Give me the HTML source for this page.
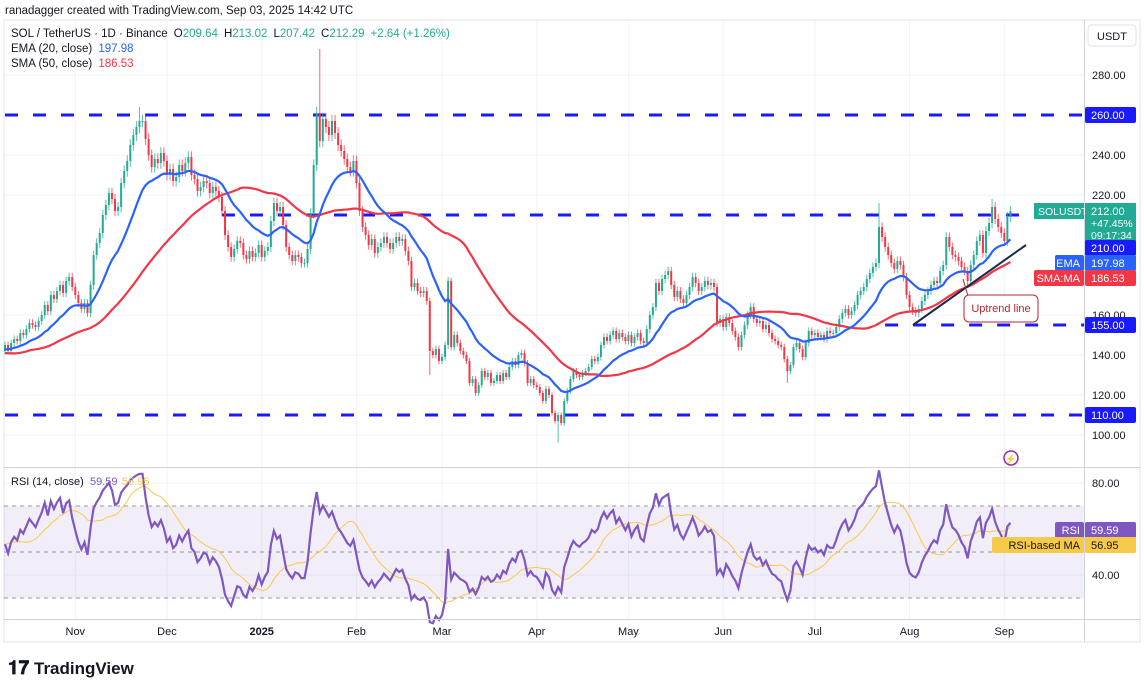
<!DOCTYPE html>
<html><head><meta charset="utf-8"><style>
body{margin:0;background:#fff;font-family:"Liberation Sans",sans-serif;}
svg{display:block}
text{font-family:"Liberation Sans",sans-serif;}
</style></head><body>
<svg id="chart" width="1144" height="690" viewBox="0 0 1144 690" xmlns="http://www.w3.org/2000/svg">
<rect x="0" y="0" width="1144" height="690" fill="#fff"/>
<text x="5" y="14" font-size="11.5" fill="#131722">ranadagger created with TradingView.com, Sep 03, 2025 14:42 UTC</text>
<rect x="4" y="20" width="1136" height="622" fill="none" stroke="#e0e3eb"/>
<g id="grid"></g>
<g id="levels"></g>
<g id="candles" clip-path="url(#pclip)"></g>
<g id="mas"></g>
<g id="rsi"></g>
<defs><clipPath id="pclip"><rect x="4" y="20" width="1080" height="447"/></clipPath></defs>
<line x1="4" y1="467.5" x2="1140" y2="467.5" stroke="#d1d4dc"/>
<line x1="4" y1="619.5" x2="1140" y2="619.5" stroke="#d1d4dc"/>
<line x1="1084.5" y1="20" x2="1084.5" y2="642" stroke="#d1d4dc"/>
<g id="axes"></g>
<text x="11" y="37" font-size="11.5" fill="#131722">SOL / TetherUS · 1D · Binance <tspan dx="3">O</tspan><tspan fill="#22ab94">209.64</tspan><tspan dx="6">H</tspan><tspan fill="#22ab94">213.02</tspan><tspan dx="6">L</tspan><tspan fill="#22ab94">207.42</tspan><tspan dx="6">C</tspan><tspan fill="#22ab94">212.29</tspan><tspan dx="6" fill="#22ab94">+2.64 (+1.26%)</tspan></text>
<text x="11" y="52" font-size="11.5" fill="#131722">EMA (20, close) <tspan fill="#2962ff" dx="3">197.98</tspan></text>
<text x="11" y="67" font-size="11.5" fill="#131722">SMA (50, close) <tspan fill="#f23645" dx="3">186.53</tspan></text>
<text x="11" y="485" font-size="11" fill="#131722">RSI (14, close)</text>
<text x="90" y="485" font-size="11" fill="#7e57c2">59.59</text>
<text x="122" y="485" font-size="11" fill="#f7c948">56.95</text>
<rect x="1088" y="25" width="48" height="21" rx="3" fill="#fff" stroke="#e0e3eb"/>
<text x="1112" y="40" font-size="11" text-anchor="middle" fill="#131722">USDT</text>
<line x1="913" y1="325" x2="1026" y2="245" stroke="#1c2a4a" stroke-width="2"/>
<line x1="963" y1="279" x2="968" y2="296" stroke="#b22833" stroke-width="1"/>
<rect x="964" y="295" width="74" height="27" rx="5" fill="#fff" stroke="#b22833"/>
<text x="1001" y="312" font-size="11" text-anchor="middle" fill="#b22833">Uptrend line</text>
<circle cx="1011" cy="458" r="7" fill="none" stroke="#9c27b0" stroke-width="1.5"/>
<text x="1011" y="462" font-size="9" text-anchor="middle" fill="#9c27b0">⚡</text>
<g>
<text x="8" y="674" font-size="19" font-weight="bold" fill="#131722">𝟏𝟕</text>
<text x="34" y="674" font-size="17" font-weight="bold" fill="#131722">TradingView</text>
</g>
</svg>
<script>
const preCloses=[142,145,150,147,143,140,136,133,134,138,141,144,146,143,139,136,133,131,134,137,141,143,140,136,133,135,138,142,145,148,150,147,143,140,137,134,132,135,138,141,144,146,149,152,150,147,144,141,139,142];
const closes=[145,142,146,148,147,151,150,153,156,155,
154,157,160,165,162,170,168,172,175,171,
177,179,174,170,166,163,166,161,175,190,
196,201,210,215,221,218,212,214,226,232,
237,245,250,254,257,257,248,240,234,238,
236,241,237,230,233,227,229,235,232,236,
239,230,228,222,224,227,226,221,224,222,
219,212,200,194,189,193,197,196,190,188,
192,189,191,195,189,192,194,207,216,212,
214,205,194,190,187,190,189,186,186,193,
211,235,261,247,258,254,250,257,251,245,
242,238,234,232,237,226,212,204,200,195,
198,191,194,196,199,196,193,196,199,197,
198,192,187,174,176,172,171,172,167,142,
140,143,137,139,145,177,144,150,146,142,
140,137,126,128,121,125,132,129,131,126,
127,130,127,131,129,134,137,135,140,141,
136,126,128,125,124,121,117,123,120,111,
107,110,106,117,122,128,132,130,129,131,
132,134,138,137,139,145,149,147,150,152,
148,151,149,147,150,146,149,151,147,146,
153,160,164,176,172,178,180,182,175,169,
172,168,166,170,174,179,176,172,174,177,
175,176,174,156,158,154,159,156,152,149,
144,150,155,160,164,158,156,157,153,155,
151,148,147,145,144,138,132,135,144,146,
143,139,146,152,150,151,149,150,148,152,
151,151,154,158,161,163,160,162,165,170,
172,174,178,181,184,186,204,199,194,190,
186,183,187,185,179,170,164,162,161,163,
167,170,172,175,177,176,182,185,199,194,
190,189,187,184,182,177,185,190,197,200,
191,202,206,214,208,204,201,197,209,212];
const spikeHighIdx=[44,103,286,323];
const spikeHighVal=[264,293,216,218];
const spikeLowIdx=[181,256,139];
const spikeLowVal=[96,126,130];
const priceTicks=[280,240,220,160,140,120,100];
const rsiTicks=[80,40];
const monthLabels=["Nov","Dec","2025","Feb","Mar","Apr","May","Jun","Jul","Aug","Sep"];
const monthIdx=[23,53,84,115,143,174,204,235,265,296,327];
const levelVals=[260,210,155,110];
const levelStartIdx=[0,71,288,0];

const NS="http://www.w3.org/2000/svg";
const X0=5, DX=3.056;
const xOf=i=>X0+i*DX;
const yP=p=>75+(280-p)*2;
const yR=v=>483+(80-v)*2.3;
function mk(parent,tag,attrs){const e=document.createElementNS(NS,tag);for(const k in attrs)e.setAttribute(k,attrs[k]);parent.appendChild(e);return e;}
const grid=document.getElementById('grid'),axes=document.getElementById('axes');
priceTicks.forEach(p=>{
  const l=mk(grid,'line',{x1:4,x2:1084,y1:yP(p),y2:yP(p),stroke:'#f0f3fa'});
  
  
  const t=mk(axes,'text',{x:1092,y:yP(p)+4,'font-size':11,fill:'#131722'});
  t.textContent=p.toFixed(2);
  
  
});
[80,40].forEach(v=>{
  mk(grid,'line',{x1:4,x2:1084,y1:yR(v),y2:yR(v),stroke:'#f0f3fa'});
});
rsiTicks.forEach(v=>{
  const t=mk(axes,'text',{x:1092,y:yR(v)+4,'font-size':11,fill:'#131722'});
  t.textContent=v.toFixed(2);
  
  
});
monthLabels.forEach((m,k)=>{
  const x=xOf(monthIdx[k]);
  mk(grid,'line',{x1:x,x2:x,y1:20,y2:619,stroke:'#f0f3fa'});
  const t=mk(axes,'text',{x:x,y:635,'font-size':11,'text-anchor':'middle',fill:'#131722','font-weight':m==='2025'?'bold':'normal'});
  t.textContent=m;
  
  
});
const lv=document.getElementById('levels');
levelVals.forEach((v,k)=>{
  const l=mk(lv,'line',{x1:xOf(levelStartIdx[k]),x2:1084,y1:yP(v),y2:yP(v),stroke:'#1a1aff','stroke-width':3,'stroke-dasharray':'13 15'});
  
  
});
const cg=document.getElementById('candles');
closes.forEach((c,i)=>{
  const o=i===0?preCloses[preCloses.length-1]:closes[i-1];
  let h=Math.max(o,c)+c*0.012, lo=Math.min(o,c)-c*0.012;
  const hi=spikeHighIdx.indexOf(i); if(hi>=0)h=spikeHighVal[hi];
  const li=spikeLowIdx.indexOf(i); if(li>=0)lo=spikeLowVal[li];
  const up=c>=o, col=up?'#22ab94':'#f23645', x=xOf(i);
  const w=mk(cg,'line',{x1:x,x2:x,y1:yP(h),y2:yP(lo),stroke:col,'stroke-width':1,opacity:0.75});
  
  
  const top=yP(Math.max(o,c)),bh=Math.max(1,Math.abs(yP(o)-yP(c)));
  const b=mk(cg,'rect',{x:x-1,y:top,width:2,height:bh,fill:col});
  
  
});
const all=preCloses.concat(closes), P=preCloses.length;
const ema=[];let e=all.slice(0,20).reduce((a,b)=>a+b)/20;
for(let i=0;i<all.length;i++){if(i>=20)e=(all[i]-e)*2/21+e;ema.push(e);}
const sma=all.map((v,i)=>{const s=Math.max(0,i-49),a=all.slice(s,i+1);return a.reduce((x,y)=>x+y)/a.length;});
const mg=document.getElementById('mas');
function path(vals,yf){return vals.map((v,i)=>(i?'L':'M')+xOf(i).toFixed(1)+' '+yf(v).toFixed(1)).join(' ');}
const sp=mk(mg,'path',{d:path(sma.slice(P),yP),fill:'none',stroke:'#f23645','stroke-width':2.2});


const ep=mk(mg,'path',{d:path(ema.slice(P),yP),fill:'none',stroke:'#2962ff','stroke-width':2.2});


let ag=0,al=0;const rsi=[];
for(let i=1;i<all.length;i++){const d=all[i]-all[i-1],g=Math.max(d,0),l=Math.max(-d,0);
 if(i<=14){ag+=g/14;al+=l/14;}else{ag=(ag*13+g)/14;al=(al*13+l)/14;}
 rsi.push(al===0?100:100-100/(1+ag/al));}
const rsiV=rsi.slice(P-1);
const rsiMA=rsi.map((v,i)=>{const s=Math.max(0,i-13),a=rsi.slice(s,i+1);return a.reduce((x,y)=>x+y)/a.length;}).slice(P-1);
const rg=document.getElementById('rsi');
mk(rg,'rect',{x:4,y:yR(70),width:1080,height:yR(30)-yR(70),fill:'#7e57c2','fill-opacity':0.1});
[70,50,30].forEach(v=>{mk(rg,'line',{x1:4,x2:1084,y1:yR(v),y2:yR(v),stroke:'#9598a1','stroke-dasharray':'4 4'});});
const rm=mk(rg,'path',{d:path(rsiMA,yR),fill:'none',stroke:'#f7c948','stroke-width':1});


const rl=mk(rg,'path',{d:path(rsiV,yR),fill:'none',stroke:'#7e57c2','stroke-width':2.2});


function tag(y,txt,bg,fg,name,pre,preBg,h){
  h=h||16;
  const g=mk(axes,'g',{});
  
  
  mk(g,'rect',{x:1085,y:y-h/2,width:51,height:h,fill:bg,rx:2});
  const t=mk(g,'text',{x:1091,y:y+4,'font-size':11,fill:fg});t.textContent=txt;
  if(pre){const w=pre.length*7+8;mk(g,'rect',{x:1084-w,y:y-h/2,width:w,height:h,fill:preBg,rx:2});
   const t2=mk(g,'text',{x:1080,y:y+4,'font-size':11,fill:fg,'text-anchor':'end'});t2.textContent=pre;}
}
tag(yP(260),'260.00','#1a1aff','#fff','level-260-label');
const last=closes[closes.length-1];
(function(){const g=mk(axes,'g',{});
 
 
 const y=yP(last);
 mk(g,'rect',{x:1034,y:y-8,width:50,height:16,fill:'#22ab94'});
 const t0=mk(g,'text',{x:1038,y:y+4,'font-size':10.5,fill:'#fff'});t0.textContent='SOLUSDT';
 mk(g,'rect',{x:1085,y:y-8,width:51,height:41,fill:'#22ab94'});
 const t1=mk(g,'text',{x:1091,y:y+4,'font-size':11,fill:'#fff'});t1.textContent=last.toFixed(2);
 const t2=mk(g,'text',{x:1091,y:y+16,'font-size':10.5,fill:'#fff'});t2.textContent='+47.45%';
 const t3=mk(g,'text',{x:1091,y:y+28,'font-size':10.5,fill:'#fff'});t3.textContent='09:17:34';
})();
tag(248,'210.00','#1a1aff','#fff','level-210-label');
tag(263,'197.98','#2962ff','#fff','ema-label','EMA','#2962ff');
tag(278,'186.53','#f23645','#fff','sma-label','SMA:MA','#f23645');
tag(yP(155),'155.00','#1a1aff','#fff','level-155-label');
tag(yP(110),'110.00','#1a1aff','#fff','level-110-label');
tag(530,'59.59','#7e57c2','#fff','rsi-value-label','RSI','#7e57c2');
tag(545,'56.95','#f7c948','#131722','rsi-ma-value-label','RSI-based MA','#f7c948');
</script>
</body></html>
